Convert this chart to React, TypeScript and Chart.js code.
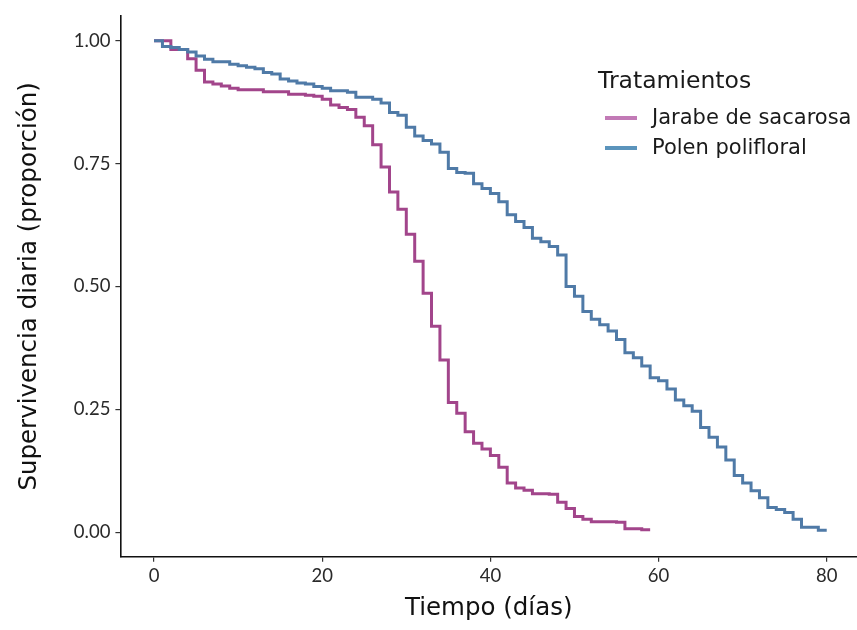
import React, { useEffect, useRef } from "react";
import { Chart, registerables } from "chart.js";

Chart.register(...registerables);

// ---- Data ----
const seriesNames = ["Jarabe de sacarosa", "Polen polifloral"];
const legendTitle = "Tratamientos";
const xTitle = "Tiempo (días)";
const yTitle = "Supervivencia diaria (proporción)";
const xTickValues = [0, 20, 40, 60, 80];
const yTickValues = [0, 0.25, 0.5, 0.75, 1];

const jarabeDays = [
  0, 1, 2, 3, 4, 5, 6, 7, 8, 9, 10, 11, 12, 13, 14, 15, 16, 17, 18, 19,
  20, 21, 22, 23, 24, 25, 26, 27, 28, 29, 30, 31, 32, 33, 34, 35, 36, 37, 38, 39,
  40, 41, 42, 43, 44, 45, 46, 47, 48, 49, 50, 51, 52, 53, 54, 55, 56, 57, 58, 59,
];
const jarabeSurvival = [
  1.0, 1.0, 0.982, 0.982, 0.963, 0.94, 0.916, 0.912, 0.908, 0.903, 0.9, 0.9, 0.9, 0.896, 0.896, 0.896, 0.891, 0.891, 0.889, 0.887,
  0.881, 0.869, 0.864, 0.86, 0.844, 0.827, 0.788, 0.743, 0.692, 0.657, 0.606, 0.551, 0.486, 0.419, 0.35, 0.264, 0.242, 0.204, 0.181, 0.169,
  0.156, 0.132, 0.1, 0.09, 0.085, 0.078, 0.078, 0.077, 0.061, 0.048, 0.032, 0.026, 0.021, 0.021, 0.021, 0.02, 0.007, 0.007, 0.005, 0.005,
];

const polenDays = [
  0, 1, 2, 3, 4, 5, 6, 7, 8, 9, 10, 11, 12, 13, 14, 15, 16, 17, 18, 19,
  20, 21, 22, 23, 24, 25, 26, 27, 28, 29, 30, 31, 32, 33, 34, 35, 36, 37, 38, 39,
  40, 41, 42, 43, 44, 45, 46, 47, 48, 49, 50, 51, 52, 53, 54, 55, 56, 57, 58, 59,
  60, 61, 62, 63, 64, 65, 66, 67, 68, 69, 70, 71, 72, 73, 74, 75, 76, 77, 78, 79, 80,
];
const polenSurvival = [
  1.0, 0.988, 0.986, 0.982, 0.977, 0.969, 0.962, 0.957, 0.957, 0.952, 0.949, 0.946, 0.943, 0.935, 0.932, 0.922, 0.918, 0.914, 0.912, 0.907,
  0.903, 0.898, 0.898, 0.895, 0.885, 0.885, 0.881, 0.873, 0.854, 0.848, 0.824, 0.806, 0.797, 0.79, 0.773, 0.74, 0.732, 0.73, 0.709, 0.699,
  0.689, 0.672, 0.646, 0.632, 0.62, 0.598, 0.591, 0.581, 0.564, 0.5, 0.48, 0.449, 0.433, 0.422, 0.409, 0.392, 0.365, 0.355, 0.338, 0.314,
  0.308, 0.291, 0.269, 0.257, 0.246, 0.213, 0.193, 0.173, 0.147, 0.115, 0.1, 0.084, 0.07, 0.05, 0.046, 0.04, 0.026, 0.01, 0.01, 0.004, 0.004,
];

const lineColors = ["#A2458B", "#4F7AA7"];
const legendColors = ["#C27AB6", "#5B94BC"];
const TICK_FONT = "Lato";
const TITLE_FONT = "'DejaVu Sans'";

export default function App() {
  const ref = useRef<HTMLCanvasElement>(null);

  useEffect(() => {
    const canvas = ref.current;
    if (!canvas) return;

    const insideLegend = {
      id: "insideLegend",
      afterDraw(chart: any) {
        const c = chart.ctx;
        c.save();
        c.textBaseline = "middle";
        c.textAlign = "left";
        c.fillStyle = "#1a1a1a";
        c.font = `23.5px ${TITLE_FONT}`;
        c.fillText(legendTitle, 598, 82);
        const rows = [118, 148];
        chart.data.datasets.forEach((ds: any, i: number) => {
          const y = rows[i];
          c.strokeStyle = legendColors[i];
          c.lineWidth = 4;
          c.beginPath();
          c.moveTo(605, y);
          c.lineTo(637, y);
          c.stroke();
          c.fillStyle = "#1a1a1a";
          c.font = `21px ${TITLE_FONT}`;
          c.fillText(ds.label, 652, y + 1);
        });
        c.restore();
      },
    };

    const toPoints = (xs: number[], ys: number[]) => xs.map((x, i) => ({ x, y: ys[i] }));

    const chart = new Chart(canvas, {
      type: "line",
      data: {
        datasets: [
          {
            label: seriesNames[0],
            data: toPoints(jarabeDays, jarabeSurvival),
            borderColor: lineColors[0],
            borderWidth: 3,
            stepped: true,
            pointRadius: 0,
            fill: false,
            order: 2,
          },
          {
            label: seriesNames[1],
            data: toPoints(polenDays, polenSurvival),
            borderColor: lineColors[1],
            borderWidth: 3,
            stepped: true,
            pointRadius: 0,
            fill: false,
            order: 1,
          },
        ],
      },
      options: {
        animation: false,
        responsive: false,
        devicePixelRatio: 1,
        layout: { padding: { top: 13.3, right: 0, left: 0, bottom: 0 } },
        plugins: { legend: { display: false }, tooltip: { enabled: false } },
        scales: {
          x: {
            type: "linear",
            min: -4,
            max: 83.6,
            afterBuildTicks: (s: any) => {
              s.ticks = xTickValues.map((v) => ({ value: v }));
            },
            afterFit: (s: any) => {
              s.height = 73.3;
            },
            grid: { drawOnChartArea: false, drawTicks: true, tickLength: 5, color: "#333", lineWidth: 1.2 },
            border: { display: true, color: "#111", width: 1.6 },
            ticks: {
              color: "#2a2a2a",
              font: { family: TICK_FONT, size: 18.5 },
              padding: 3,
              maxRotation: 0,
              callback: (v: any) => String(v),
            },
            title: {
              display: true,
              text: xTitle,
              color: "#111",
              font: { family: TITLE_FONT, size: 24.5 },
              padding: { top: 0, bottom: 7 },
            },
          },
          y: {
            type: "linear",
            min: -0.05,
            max: 1.05,
            afterBuildTicks: (s: any) => {
              s.ticks = yTickValues.map((v) => ({ value: v }));
            },
            afterFit: (s: any) => {
              s.width = 120.4;
            },
            grid: { drawOnChartArea: false, drawTicks: true, tickLength: 5, color: "#333", lineWidth: 1.2 },
            border: { display: true, color: "#111", width: 1.6 },
            ticks: {
              color: "#2a2a2a",
              font: { family: TICK_FONT, size: 18.5 },
              padding: 5,
              callback: (v: any) => Number(v).toFixed(2),
            },
            title: {
              display: true,
              text: yTitle,
              color: "#111",
              font: { family: TITLE_FONT, size: 24.5 },
              padding: { top: 15, bottom: 0 },
            },
          },
        },
      },
      plugins: [insideLegend],
    } as any);

    return () => chart.destroy();
  }, []);

  return (
    <div style={{ position: "absolute", left: 0, top: 0, width: 857, height: 630, background: "#fff" }}>
      <canvas ref={ref} width={857} height={630} style={{ display: "block", width: 857, height: 630 }} />
    </div>
  );
}
